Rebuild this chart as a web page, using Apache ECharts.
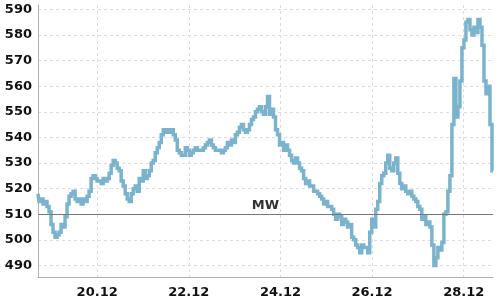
<!DOCTYPE html>
<html><head><meta charset="utf-8">
<script src="https://cdn.jsdelivr.net/npm/echarts@6/dist/echarts.min.js"></script>
<style>html,body{margin:0;padding:0;background:#fff}#c{width:500px;height:300px}</style>
</head><body><div id="c"></div>
<script>
// series start and sampling step (minutes)
const startTime = [2023, 11, 18, 17, 0];
const stepMinutes = 63;
const values = [518,515,516,514,515,513,511,506,503,501,502,503,506,505,509,514,517,518,519,516,
515,516,514,516,515,517,519,524,525,524,523,523,522,524,523,524,526,529,531,530,
528,527,523,521,518,516,515,518,520,521,519,524,523,527,524,525,527,530,531,534,
536,538,541,543,542,543,542,543,541,539,535,534,533,533,536,535,533,534,535,536,
535,535,535,536,537,538,539,537,536,535,535,535,534,535,536,538,537,539,538,541,
542,544,545,543,542,543,545,547,548,550,551,552,550,549,552,556,549,551,548,543,
541,537,538,535,537,535,533,531,530,532,530,528,527,524,522,523,521,521,519,519,
518,517,516,514,515,513,513,512,510,508,510,509,506,508,507,505,506,501,500,498,
497,495,498,497,497,495,503,508,505,512,515,522,525,526,530,533,528,527,530,532,
526,522,520,521,519,518,519,517,516,515,513,512,508,509,506,507,505,498,490,493,
497,496,499,510,511,519,525,545,563,548,552,562,575,578,585,586,582,580,583,581,
586,583,576,562,557,560,545,527];
const tickDates = [[2023,11,20],[2023,11,22],[2023,11,24],[2023,11,26],[2023,11,28]];
const refValue = 510;
const refLabel = 'MW';

const t0 = new Date(startTime[0], startTime[1], startTime[2], startTime[3], startTime[4]).getTime();
const data = values.map((v, i) => [t0 + i * stepMinutes * 60000, v]);
const ticks = tickDates.map(d => new Date(d[0], d[1], d[2]).getTime());

const chart = echarts.init(document.getElementById('c'), null, {renderer: 'canvas'});
const lab = {fontFamily: 'DejaVu Sans', fontSize: 13, fontWeight: 'bold', color: '#111'};
chart.setOption({
  animation: false,
  grid: {left: 38, right: 7, top: 5, bottom: 23, containLabel: false},
  xAxis: {
    type: 'value',
    min: data[0][0], max: data[data.length - 1][0],
    axisLine: {lineStyle: {color: '#b0b0b0', width: 1}},
    axisTick: {show: false, customValues: ticks},
    axisLabel: Object.assign({}, lab, {
      customValues: ticks, margin: 9,
      formatter: v => { const d = new Date(v); return String(d.getDate()).padStart(2,'0') + '.' + String(d.getMonth()+1).padStart(2,'0'); }
    }),
    splitLine: {show: true, lineStyle: {color: '#dcdcdc', type: [3, 3], width: 1}}
  },
  yAxis: {
    type: 'value', min: 485.5, max: 591.7, splitNumber: 10,
    axisLine: {show: true, lineStyle: {color: '#b0b0b0', width: 1}},
    axisTick: {show: false},
    axisLabel: Object.assign({}, lab, {margin: 6, showMinLabel: false, showMaxLabel: false}),
    splitLine: {show: true, showMinLine: false, showMaxLine: false, lineStyle: {color: '#dcdcdc', type: [3, 3], width: 1}}
  },
  series: [{
    type: 'line', data: data, showSymbol: false, symbol: 'none', step: 'middle',
    lineStyle: {color: '#7bb3cd', width: 3.5, join: 'miter'},
    markLine: {
      silent: true, symbol: 'none',
      lineStyle: {color: '#777', width: 1, type: 'solid'},
      label: {show: true, position: 'middle', formatter: refLabel, fontFamily: 'DejaVu Sans', fontSize: 13, fontWeight: 'bold', color: '#333', distance: 2},
      data: [{yAxis: refValue}]
    }
  }]
});
</script></body></html>
